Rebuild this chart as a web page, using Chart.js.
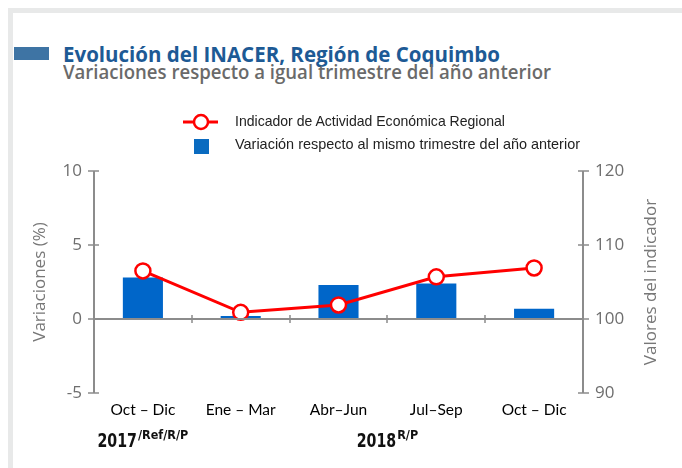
<!DOCTYPE html>
<html>
<head>
<meta charset="utf-8">
<script src="https://cdn.jsdelivr.net/npm/chart.js@4/dist/chart.umd.min.js"></script>
<style>
  html, body { margin:0; padding:0; background:#fff; }
  body { width:682px; height:468px; position:relative; overflow:hidden; font-family:'Open Sans',sans-serif; }
  #frameTop { position:absolute; left:8px; top:8px; width:674px; height:5px; background:#e8e9e9; }
  #frameLeft { position:absolute; left:8px; top:8px; width:5px; height:460px; background:#e8e9e9; }
  #sq { position:absolute; left:14px; top:47px; width:35px; height:13px; background:#3e74a4; }
  .fit { position:absolute; white-space:nowrap; transform-origin:0 0; line-height:1; }
  #title { left:63px; top:42px; font-size:22px; font-weight:700; color:#1d5a95; }
  #subtitle { left:63px; top:62.5px; font-size:19px; font-weight:600; color:#6a6a6a; }
  canvas#c { position:absolute; left:0; top:0; }
  .leg { font-family:'Liberation Sans',Arial,sans-serif; font-size:15px; color:#222; }
</style>
</head>
<body>
<div id="frameTop"></div>
<div id="frameLeft"></div>
<div id="sq"></div>
<div id="title" class="fit" data-w="437">Evolución del INACER, Región de Coquimbo</div>
<div id="subtitle" class="fit" data-w="488">Variaciones respecto a igual trimestre del año anterior</div>
<canvas id="c" width="682" height="468"></canvas>
<div id="leg1" class="fit leg" data-w="270" style="left:235px; top:113px;"></div>
<div id="leg2" class="fit leg" data-w="345" style="left:235px; top:136px;"></div>
<script>
// ---- data ----
const categories = ['Oct – Dic', 'Ene – Mar', 'Abr–Jun', 'Jul–Sep', 'Oct – Dic'];
const variacion = [2.8, 0.2, 2.3, 2.4, 0.7];
const indicador = [106.5, 100.9, 101.9, 105.7, 106.9];
const leftTicks = [-5, 0, 5, 10];
const rightTicks = [90, 100, 110, 120];
const yearLabels = [
  { year: '2017', sup: '/Ref/R/P', from: 0, to: 0 },
  { year: '2018', sup: 'R/P', from: 1, to: 4 }
];
const legendLabels = ['Indicador de Actividad Económica Regional', 'Variación respecto al mismo trimestre del año anterior'];

document.getElementById('leg1').textContent = legendLabels[0];
document.getElementById('leg2').textContent = legendLabels[1];
document.querySelectorAll('.fit').forEach(el => {
  const w = el.getBoundingClientRect().width;
  el.style.transform = 'scaleX(' + (parseFloat(el.dataset.w) / w) + ')';
});

const AXIS = '#8c8c8c';
const CONDENSED = "'DejaVu Sans Condensed',sans-serif";
const REG = "'Open Sans','Noto Sans',sans-serif";

const decor = {
  id: 'decor',
  afterDraw(chart) {
    const ctx = chart.ctx;
    const a = chart.chartArea;
    const y = chart.scales.y, y1 = chart.scales.y1, x = chart.scales.x;
    ctx.save();
    ctx.strokeStyle = AXIS;
    ctx.lineWidth = 2;
    ctx.beginPath();
    ctx.moveTo(a.left, a.top); ctx.lineTo(a.left, a.bottom);
    ctx.moveTo(a.right, a.top); ctx.lineTo(a.right, a.bottom);
    const z = Math.round(y.getPixelForValue(0));
    ctx.moveTo(a.left, z); ctx.lineTo(a.right, z);
    ctx.stroke();
    ctx.lineWidth = 1.5;
    ctx.beginPath();
    leftTicks.forEach(v => { const p = Math.round(y.getPixelForValue(v)); ctx.moveTo(a.left - 6, p); ctx.lineTo(a.left + 5, p); });
    rightTicks.forEach(v => { const p = Math.round(y1.getPixelForValue(v)); ctx.moveTo(a.right - 5, p); ctx.lineTo(a.right + 6, p); });
    for (let i = 0; i < categories.length - 1; i++) {
      const p = Math.round((x.getPixelForValue(i) + x.getPixelForValue(i + 1)) / 2);
      ctx.moveTo(p, z - 4); ctx.lineTo(p, z + 4);
    }
    ctx.stroke();
    // axis titles
    ctx.fillStyle = '#777';
    ctx.font = "17px " + REG;
    ctx.textAlign = 'center'; ctx.textBaseline = 'middle';
    ctx.save(); ctx.translate(40, (a.top + a.bottom) / 2); ctx.rotate(-Math.PI / 2); ctx.fillText('Variaciones (%)', 0, 0); ctx.restore();
    ctx.save(); ctx.translate(651, (a.top + a.bottom) / 2); ctx.rotate(-Math.PI / 2); ctx.fillText('Valores del indicador', 0, 0); ctx.restore();
    // year labels (condensed)
    ctx.fillStyle = '#111';
    ctx.textAlign = 'left'; ctx.textBaseline = 'alphabetic';
    const sy = 0.83, ss = 1.0;
    yearLabels.forEach(yl => {
      const cx = (x.getPixelForValue(yl.from) + x.getPixelForValue(yl.to)) / 2;
      ctx.font = "bold 19px " + CONDENSED;
      const w1 = ctx.measureText(yl.year).width * sy;
      ctx.font = "bold 12.5px " + CONDENSED;
      const w2 = ctx.measureText(yl.sup).width * ss;
      const start = cx - (w1 + w2 + 1) / 2;
      ctx.save();
      ctx.translate(start, 447); ctx.scale(sy, 1);
      ctx.font = "bold 19px " + CONDENSED;
      ctx.fillText(yl.year, 0, 0);
      ctx.restore();
      ctx.save();
      ctx.translate(start + w1 + 1, 439); ctx.scale(ss, 1);
      ctx.font = "bold 12.5px " + CONDENSED;
      ctx.fillText(yl.sup, 0, 0);
      ctx.restore();
    });
    // legend symbols
    ctx.strokeStyle = '#ff0000'; ctx.lineWidth = 3;
    ctx.beginPath(); ctx.moveTo(183, 122); ctx.lineTo(218, 122); ctx.stroke();
    ctx.fillStyle = '#fff'; ctx.lineWidth = 2.5;
    ctx.beginPath(); ctx.arc(201, 122, 7, 0, Math.PI * 2); ctx.fill(); ctx.stroke();
    ctx.fillStyle = '#0a6bc0';
    ctx.fillRect(194, 139, 15, 15);
    ctx.restore();
  }
};

new Chart(document.getElementById('c'), {
  type: 'bar',
  data: {
    labels: categories,
    datasets: [
      { type: 'line', label: legendLabels[0], data: indicador, yAxisID: 'y1', order: 1,
        borderColor: '#ff0000', borderWidth: 3, pointRadius: 7.5, pointHoverRadius: 7.5,
        pointBackgroundColor: '#fff', pointBorderColor: '#ff0000', pointBorderWidth: 2.5, tension: 0 },
      { type: 'bar', label: legendLabels[1], data: variacion, yAxisID: 'y', order: 2,
        backgroundColor: '#0066c9', categoryPercentage: 1, barPercentage: 0.41 }
    ]
  },
  options: {
    responsive: false, animation: false,
    layout: { padding: { top: 171, left: 0, right: 0, bottom: 0 } },
    plugins: { legend: { display: false }, tooltip: { enabled: false } },
    scales: {
      x: {
        grid: { display: false, drawTicks: false }, border: { display: false },
        ticks: { color: '#000', font: { family: "'Lato',sans-serif", size: 15.5 }, padding: 8, maxRotation: 0, autoSkip: false },
        afterFit(s) { s.height = 75; }
      },
      y: {
        position: 'left', min: -5, max: 10,
        afterBuildTicks(s) { s.ticks = leftTicks.map(v => ({ value: v })); },
        grid: { display: false, drawTicks: false }, border: { display: false },
        ticks: { color: '#6e6e6e', font: { family: REG, size: 17 }, padding: 12 },
        afterFit(s) { s.width = 94; }
      },
      y1: {
        position: 'right', min: 90, max: 120,
        afterBuildTicks(s) { s.ticks = rightTicks.map(v => ({ value: v })); },
        grid: { display: false, drawTicks: false }, border: { display: false },
        ticks: { color: '#6e6e6e', font: { family: REG, size: 17 }, padding: 12 },
        afterFit(s) { s.width = 99; }
      }
    }
  },
  plugins: [decor]
});
</script>
</body>
</html>
